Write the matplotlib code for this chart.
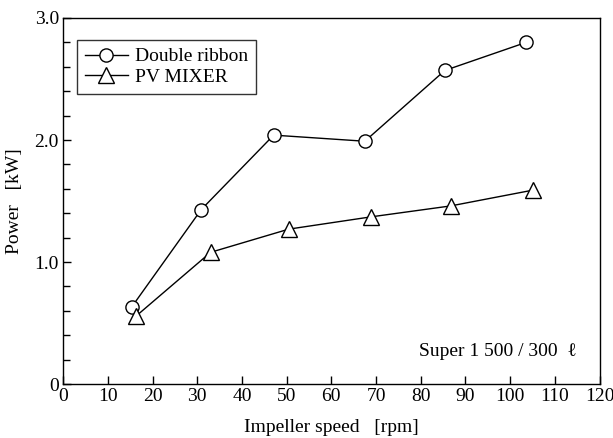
import matplotlib.pyplot as plt
from matplotlib.ticker import MultipleLocator

plt.rcParams['font.family'] = ['Liberation Serif', 'DejaVu Serif']

# Data
ribbon_speed = [15.3, 30.9, 47.1, 67.5, 85.4, 103.6]
ribbon_power = [0.63, 1.43, 2.04, 1.99, 2.57, 2.80]
pv_speed = [16.4, 33.0, 50.5, 68.8, 86.7, 105.2]
pv_power = [0.56, 1.08, 1.27, 1.37, 1.46, 1.59]

x_ticks = list(range(0, 130, 10))
y_ticks = [0, 1.0, 2.0, 3.0]
y_labels = ['0', '1.0', '2.0', '3.0']

fig = plt.figure(figsize=(6.13, 4.38), dpi=100)
ax = fig.add_axes([0.103, 0.123, 0.875, 0.836])

ax.plot(ribbon_speed, ribbon_power, color='black', lw=1.0, marker='o',
        markersize=9.5, markerfacecolor='white', markeredgecolor='black',
        markeredgewidth=1.0, label='Double ribbon')
ax.plot(pv_speed, pv_power, color='black', lw=1.0, marker='^',
        markersize=11, markerfacecolor='white', markeredgecolor='black',
        markeredgewidth=1.0, label='PV MIXER')

ax.set_xlim(0, 120)
ax.set_ylim(0, 3.0)
ax.set_xticks(x_ticks)
ax.set_yticks(y_ticks)
ax.set_yticklabels(y_labels)
ax.yaxis.set_minor_locator(MultipleLocator(0.2))
ax.tick_params(which='both', direction='in', top=False, right=False,
               labelsize=14, width=1.0, pad=3)
ax.tick_params(which='major', length=6)
ax.tick_params(which='minor', length=5)
for s in ax.spines.values():
    s.set_linewidth(1.0)

ax.set_xlabel('Impeller speed   [rpm]', fontsize=14, labelpad=10)
ax.set_ylabel('Power   [kW]', fontsize=14, labelpad=8)

leg = ax.legend(loc='upper left', bbox_to_anchor=(0.026, 0.94), fontsize=14,
                frameon=True, fancybox=False, edgecolor='black',
                handlelength=2.2, handletextpad=0.4, borderpad=0.4,
                labelspacing=0.15, borderaxespad=0)
leg.get_frame().set_linewidth(1.0)

ax.text(0.957, 0.09, 'Super 1 500 / 300  ℓ', transform=ax.transAxes,
        ha='right', va='center', fontsize=14)

fig.savefig('out.png', dpi=100)
